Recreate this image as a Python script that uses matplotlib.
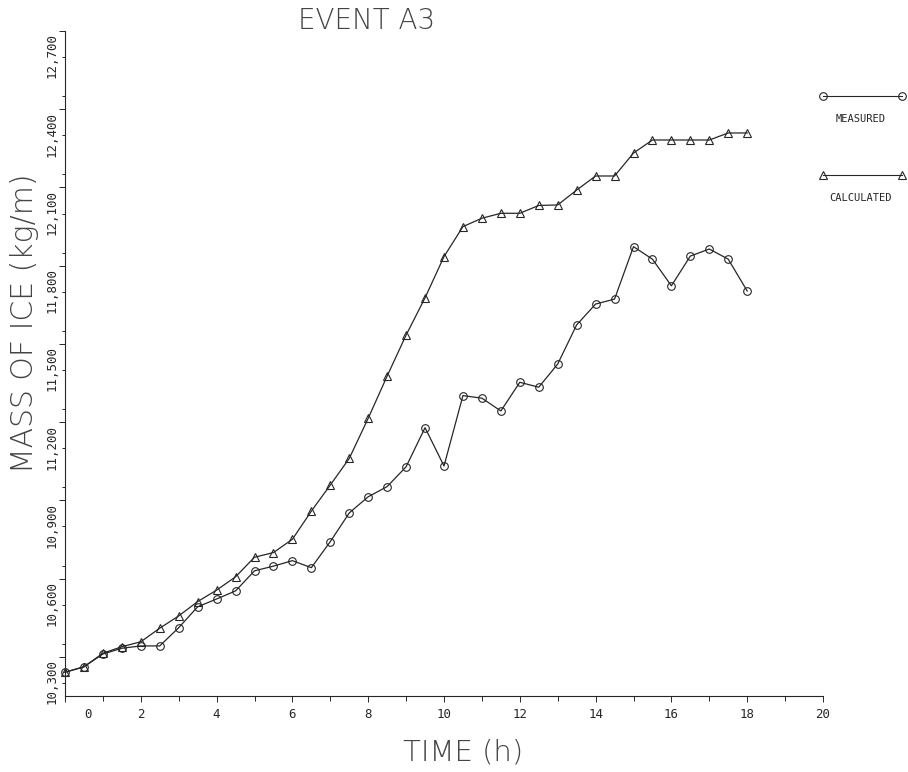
"""Event A3: measured vs calculated ice mass on a conductor."""

import matplotlib
matplotlib.use("Agg")
import matplotlib.pyplot as plt
import matplotlib.transforms as mtransforms
from matplotlib.ticker import FuncFormatter, MultipleLocator
import numpy as np

# data
time_h = np.arange(0, 18.5, 0.5)

measured = [
    10241, 10262, 10311, 10333, 10342, 10342, 10412, 10492, 10522, 10553,
    10630, 10648, 10669, 10642, 10742, 10852, 10914, 10953, 11029, 11179,
    11032, 11302, 11292, 11243, 11353, 11334, 11423, 11573, 11653, 11672,
    11873, 11825, 11723, 11837, 11864, 11825, 11703,
]

calculated = [
    10241, 10262, 10314, 10339, 10358, 10410, 10457, 10512, 10556, 10607,
    10682, 10700, 10751, 10859, 10959, 11061, 11215, 11377, 11534, 11677,
    11835, 11950, 11982, 12001, 12001, 12031, 12033, 12090, 12144, 12144,
    12232, 12282, 12282, 12282, 12282, 12309, 12309,
]

x_ticks = list(range(0, 21, 2))
y_ticks = list(range(10300, 12701, 300))

INK = "#262626"
W, H = 908, 772

fig = plt.figure(figsize=(W / 100, H / 100), dpi=100)
ax = fig.add_axes([65 / W, 1 - 696 / H, 758 / W, 665 / H])

ax.plot(time_h, calculated, "-", color=INK, lw=0.9, marker="^", ms=5.5,
        mfc="none", mec=INK, mew=0.8, clip_on=False, zorder=3)
ax.plot(time_h, measured, "-", color=INK, lw=0.9, marker="o", ms=5.5,
        mfc="none", mec=INK, mew=0.8, clip_on=False, zorder=3)

ax.set_xlim(0, 20)
ax.set_ylim(10150, 12700)

for side in ("top", "right"):
    ax.spines[side].set_visible(False)
for side in ("left", "bottom"):
    ax.spines[side].set_color(INK)
    ax.spines[side].set_linewidth(0.8)

ax.set_xticks(x_ticks)
ax.xaxis.set_minor_locator(MultipleLocator(1))
ax.set_yticks(y_ticks)
ax.yaxis.set_minor_locator(MultipleLocator(150))
ax.yaxis.set_major_formatter(FuncFormatter(lambda v, p: f"{int(v):,}"))

ax.tick_params(axis="both", which="both", direction="out", colors=INK,
               width=0.7)
ax.tick_params(axis="x", which="major", length=4, pad=5)
ax.tick_params(axis="x", which="minor", length=3.5)
ax.tick_params(axis="y", which="major", length=4, pad=1)
ax.tick_params(axis="y", which="minor", length=2.2)

for lab in ax.get_xticklabels() + ax.get_yticklabels():
    lab.set_fontfamily("DejaVu Sans Mono")
    lab.set_fontsize(9)
for lab in ax.get_yticklabels():
    lab.set_rotation(90)
    lab.set_va("center")
    # the plotter set its labels a little below the long ticks
    lab.set_transform(lab.get_transform() + mtransforms.ScaledTranslation(
        0, -25 / 100, fig.dpi_scale_trans))

# the "0" label sits right of its tick in the original
zero = ax.get_xticklabels()[0]
zero.set_transform(zero.get_transform() + mtransforms.ScaledTranslation(
    23 / 100, 0, fig.dpi_scale_trans))

big = {"family": "DejaVu Sans", "color": "#444444", "weight": "light"}
fig.text(367 / W, 1 - 21 / H, "EVENT A3", ha="center", va="center",
         size=20, **big)
fig.text(463 / W, 1 - 753 / H, "TIME (h)", ha="center", va="center",
         size=21, **big)
fig.text(25 / W, 1 - 323 / H, "MASS OF ICE (kg/m)", ha="center",
         va="center", rotation=90, size=21.5, **big)

# hand-drawn legend to the right of the axes
leg = [("o", "MEASURED", 96, 119), ("^", "CALCULATED", 175, 198)]
for mk, name, y_line, y_txt in leg:
    fig.add_artist(plt.Line2D([823 / W, 902 / W], [1 - y_line / H] * 2,
                              color=INK, lw=0.8, marker=mk, ms=5.5,
                              mfc="none", mec=INK, mew=0.8))
    fig.text(861 / W, 1 - y_txt / H, name, ha="center", va="center",
             family="DejaVu Sans Mono", size=7.5, color=INK)

fig.savefig("out.png", dpi=100)
